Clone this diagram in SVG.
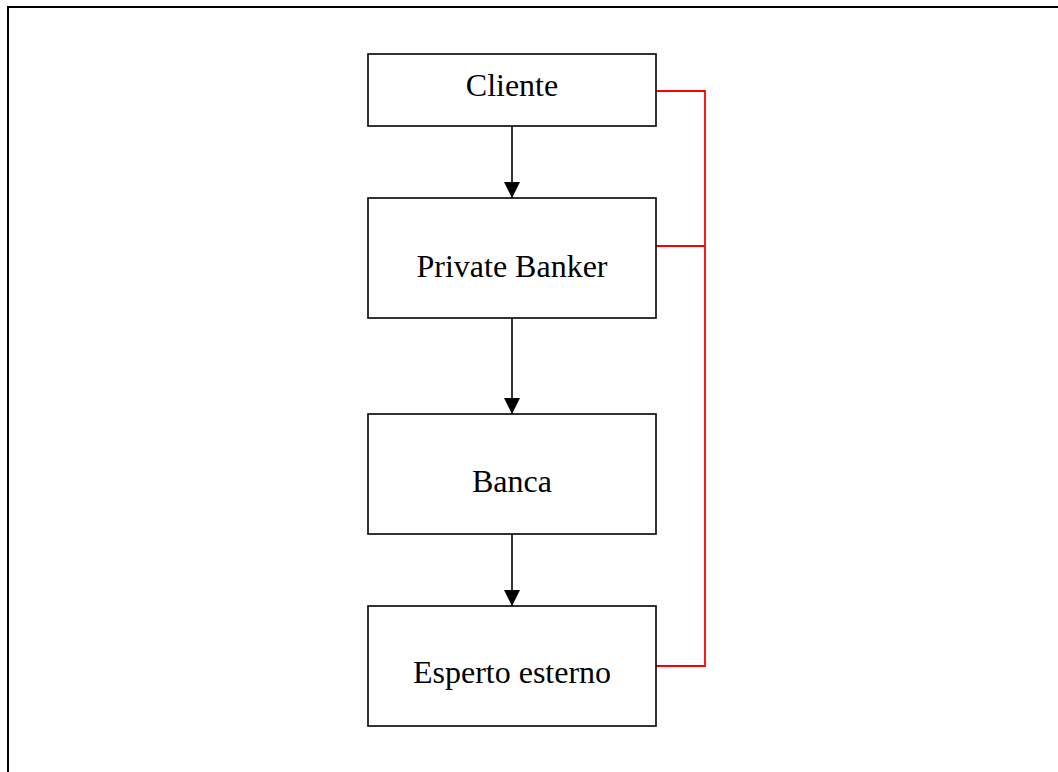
<svg xmlns="http://www.w3.org/2000/svg" width="1058" height="772" viewBox="0 0 1058 772">
<style>
.box{fill:#fff;stroke:#000;stroke-width:1.6}
.lbl{font-family:"Liberation Serif","Times New Roman",serif;font-size:32px;fill:#000;text-anchor:middle}
.arr{fill:none;stroke:#000;stroke-width:1.6}
.red{fill:none;stroke:#ff0000;stroke-width:1.8}
.frame{fill:none;stroke:#000;stroke-width:2}
</style>
<defs>
<marker id="ah" markerWidth="16" markerHeight="16" viewBox="0 0 16 16" refX="16" refY="8" orient="auto" markerUnits="userSpaceOnUse">
<path d="M0,0 L16,8 L0,16 Z" fill="#000"/>
</marker>
</defs>
<rect width="1058" height="772" fill="#fff"/>
<path class="frame" d="M8,773 V7 H1058"/>
<g id="connectors">
<line class="arr" x1="512" y1="126" x2="512" y2="198" marker-end="url(#ah)"/>
<line class="arr" x1="512" y1="318" x2="512" y2="414" marker-end="url(#ah)"/>
<line class="arr" x1="512" y1="534" x2="512" y2="606" marker-end="url(#ah)"/>
<path class="red" d="M656,91 H705 V666 H656 M656,246 H705"/>
</g>
<g id="cliente">
<rect class="box" x="368" y="54" width="288" height="72"/>
<text class="lbl" x="512" y="96">Cliente</text>
</g>
<g id="private-banker">
<rect class="box" x="368" y="198" width="288" height="120"/>
<text class="lbl" x="512" y="277">Private Banker</text>
</g>
<g id="banca">
<rect class="box" x="368" y="414" width="288" height="120"/>
<text class="lbl" x="512" y="492">Banca</text>
</g>
<g id="esperto-esterno">
<rect class="box" x="368" y="606" width="288" height="120"/>
<text class="lbl" x="512" y="683">Esperto esterno</text>
</g>
</svg>
